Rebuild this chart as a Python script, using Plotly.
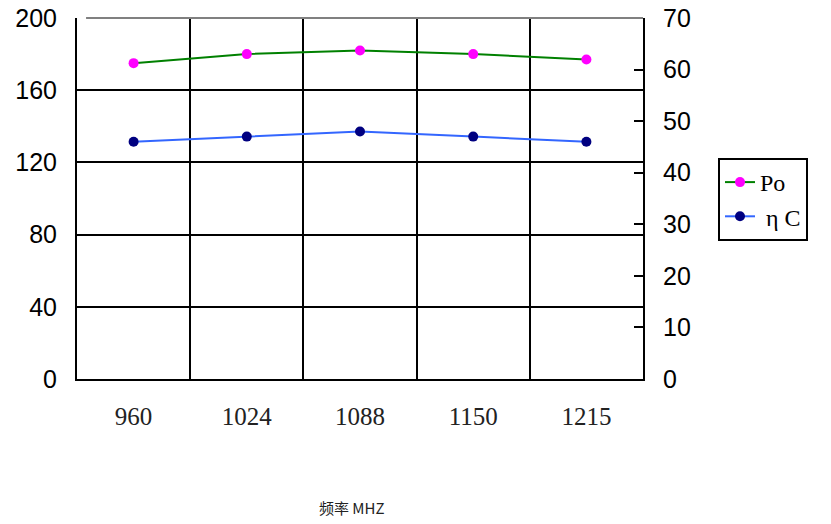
import plotly.graph_objects as go

freqs = ["960", "1024", "1088", "1150", "1215"]
po = [175, 180, 182, 180, 177]
eta_c = [46, 47, 48, 47, 46]
left_ticks = [0, 40, 80, 120, 160, 200]
right_ticks = [0, 10, 20, 30, 40, 50, 60, 70]

fig = go.Figure()
fig.add_trace(go.Scatter(
    x=freqs, y=po, name="Po", mode="lines+markers",
    line=dict(color="#008000", width=2),
    marker=dict(color="#FF00FF", size=10),
    yaxis="y",
))
fig.add_trace(go.Scatter(
    x=freqs, y=eta_c, name=" η C", mode="lines+markers",
    line=dict(color="#3366FF", width=2),
    marker=dict(color="#000080", size=10),
    yaxis="y2",
))

fig.update_layout(
    width=831, height=524,
    margin=dict(l=77, r=188, t=18, b=145, autoexpand=False),
    plot_bgcolor="white", paper_bgcolor="white",
    showlegend=True,
    xaxis=dict(
        type="category", tickson="boundaries", automargin=False,
        range=[-0.5, 4.5],
        showgrid=True, gridcolor="black", gridwidth=2,
        showline=True, linecolor="black", linewidth=2,
        ticks="", ticklabelstandoff=14,
        tickfont=dict(family="Liberation Serif", size=25, color="#222222"),
    ),
    yaxis=dict(
        range=[0, 200], tickvals=left_ticks, automargin=False,
        ticklabeloverflow="allow",
        showgrid=True, gridcolor="black", gridwidth=2, zeroline=False,
        showline=True, linecolor="black", linewidth=2,
        ticks="inside", ticklen=9, tickwidth=2, tickcolor="black",
        ticklabelstandoff=13,
        tickfont=dict(family="Liberation Sans", size=25, color="black"),
    ),
    yaxis2=dict(
        range=[0, 70], tickvals=right_ticks, overlaying="y", side="right",
        automargin=False, ticklabeloverflow="allow",
        showgrid=False, zeroline=False,
        showline=True, linecolor="black", linewidth=2,
        ticks="inside", ticklen=9, tickwidth=2, tickcolor="black",
        ticklabelstandoff=13,
        tickfont=dict(family="Liberation Sans", size=25, color="black"),
    ),
    legend=dict(
        x=(718 - 77) / 566, xanchor="left", y=(379 - 158) / 361, yanchor="top",
        bgcolor="white", bordercolor="black", borderwidth=2,
        font=dict(family="Liberation Serif", size=24, color="black"),
        tracegroupgap=4,
    ),
    shapes=[dict(type="line", xref="paper", yref="paper", x0=0.016, x1=1, y0=1, y1=1,
                 line=dict(color="#808080", width=2))],
    annotations=[dict(text="频率 MHZ", xref="paper", yref="paper",
                      x=(352 - 77) / 566, y=(379 - 508) / 361, showarrow=False,
                      xanchor="center", yanchor="middle",
                      font=dict(family="Noto Sans CJK SC", size=15, color="#222222"))],
)

fig.write_html(
    "out.html",
    config={"displayModeBar": False},
    post_script="document.body.style.margin='0';document.body.style.overflow='hidden';",
)
